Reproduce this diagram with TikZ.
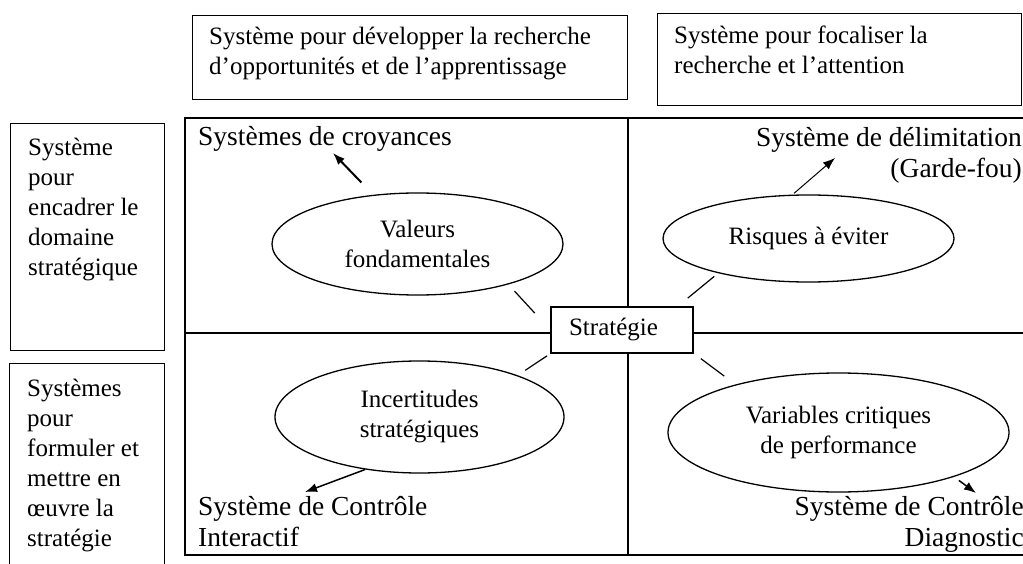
\documentclass[tikz,border=0pt]{standalone}
\usepackage{fontspec}
\setmainfont{Liberation Serif}
\usetikzlibrary{shapes.geometric,arrows.meta}

\begin{document}
\begin{tikzpicture}[x=1pt,y=-1pt,>={Latex[length=12pt,width=9pt]},
  box/.style={draw,line width=1.3pt,inner sep=0pt,anchor=north west},
  txt/.style={inner sep=0pt,align=left,anchor=north west,font=\fontsize{25}{30}\selectfont},
  lbl/.style={inner sep=0pt,font=\fontsize{27.5}{31.5}\selectfont},
  oval/.style={ellipse,draw,line width=1.3pt,inner sep=0pt,align=center,font=\fontsize{25}{30}\selectfont},
  tick/.style={line width=1.2pt}]
\useasboundingbox (0,0) rectangle (1023,564);

% quadrants
\draw[line width=1.3pt] (185,118) rectangle (1040,555);
\draw[line width=1.3pt] (185,333) -- (1040,333);
\draw[line width=1.3pt] (628,118) -- (628,555);

% boxes on top
\node[box,minimum width=435pt,minimum height=84pt] (dev) at (192,15) {};
\node[txt] (devtxt) at (209,27) {Système pour développer la recherche\\d’opportunités et de l’apprentissage};
\node[box,minimum width=364pt,minimum height=92pt] (foc) at (657,13) {};
\node[txt] (foctxt) at (674,25.5) {Système pour focaliser la\\recherche et l’attention};

% boxes on the left
\node[box,minimum width=154pt,minimum height=227pt] (encadrer) at (10,123) {};
\node[txt] (encadrertxt) at (28,138) {Système\\pour\\encadrer le\\domaine\\stratégique};
\node[box,minimum width=155pt,minimum height=215pt] (formuler) at (9,363) {};
\node[txt] (formulertxt) at (27,379) {Systèmes\\pour\\formuler et\\mettre en\\œuvre la\\stratégie};

% quadrant labels
\node[lbl,anchor=base west] (croyances) at (198,146) {Systèmes de croyances};
\node[lbl,anchor=north east,align=right] (delimitation) at (1022,127) {Système de délimitation\\(Garde-fou)};
\node[lbl,anchor=north west,align=left] (interactif) at (198,496) {Système de Contrôle\\Interactif};
\node[lbl,anchor=north east,align=right] (diagnostic) at (1024,496) {Système de Contrôle\\Diagnostic};

% levers
\node[oval,minimum width=291pt,minimum height=102pt] (valeurs) at (417.5,244) {Valeurs\\fondamentales};
\node[oval,minimum width=291pt,minimum height=87pt] (risques) at (808.5,238.5) {Risques à éviter};
\node[oval,minimum width=289pt,minimum height=112pt] (incert) at (419.5,417) {Incertitudes\\stratégiques};
\node[oval,minimum width=341pt,minimum height=119pt] (varcrit) at (838.5,432.5) {Variables critiques\\de performance};

\node[draw,fill=white,line width=1.3pt,minimum width=142pt,minimum height=46pt,
  font=\fontsize{25}{30}\selectfont] (strat) at (622,330) {\hspace*{-17pt}Stratégie};

\draw[tick,shorten <=9pt,shorten >=23pt] (valeurs.-24.5) -- (strat.west);
\draw[tick,shorten <=13pt,shorten >=5pt] (strat.23) -- (risques.201.3);
\draw[tick,shorten <=4pt,shorten >=9pt] (strat.south west) -- (incert.23.7);
\draw[tick,shorten <=9pt,shorten >=14pt] (strat.-18.7) -- (varcrit.155.2);

\coordinate (croytip) at (333,153);
\coordinate (delimtip) at (835,158);
\coordinate (interactip) at (305,492);
\coordinate (diagtip) at (976,493);
\draw[->,line width=2pt,shorten <=17pt] (valeurs.132.8) -- (croytip);
\draw[->,line width=1pt,shorten <=2pt] (risques.110.7) -- (delimtip);
\draw[->,line width=1.5pt] (incert.-136.3) -- (interactip);
\draw[->,line width=1.5pt,shorten <=6pt] (varcrit.-21) -- (diagtip);

\end{tikzpicture}
\end{document}
